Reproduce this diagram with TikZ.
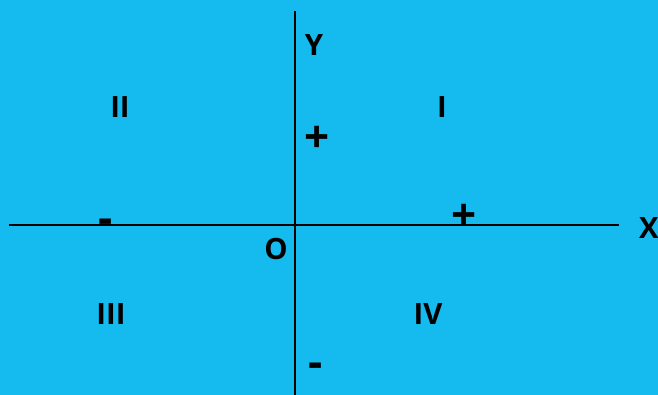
\documentclass[tikz,border=0pt]{standalone}
\usepackage{fontspec}
\setmainfont{Open Sans}
\definecolor{bgcyan}{RGB}{21,187,239}
\begin{document}
\begin{tikzpicture}[x=0.75pt,y=-0.75pt,
  lbl/.style={inner sep=0pt,font=\fontsize{22}{24}\selectfont\bfseries,text=black},
  sign/.style={lbl,font=\fontsize{33}{34}\selectfont\bfseries},
  axis/.style={draw=black,line width=0.8pt}]
\fill[bgcyan] (0,0) rectangle (658,395);
\useasboundingbox (0,0) rectangle (658,395);
\coordinate (ytop) at (295,11);
\coordinate (ybot) at (295,395);
\coordinate (xl) at (9,225);
\coordinate (xr) at (619,225);
\draw[axis] (ytop) -- (ybot);
\draw[axis] (xl) -- (xr);
\node[lbl] (Y) at (314,45) {Y};
\node[lbl] (X) at (649,228) {X};
\node[lbl] (O) at (276,249) {O};
\node[lbl] (q1) at (442,107) {I};
\node[lbl] (q2) at (120,107) {II};
\node[lbl] (q3) at (111,314) {III};
\node[lbl] (q4) at (428,314) {IV};
\node[sign] (yp) at (317,139) {+};
\node[sign] (xp) at (464,217) {+};
\node[sign] (xm) at (106,226) {-};
\node[sign] (ym) at (316,370) {-};
\end{tikzpicture}
\end{document}
